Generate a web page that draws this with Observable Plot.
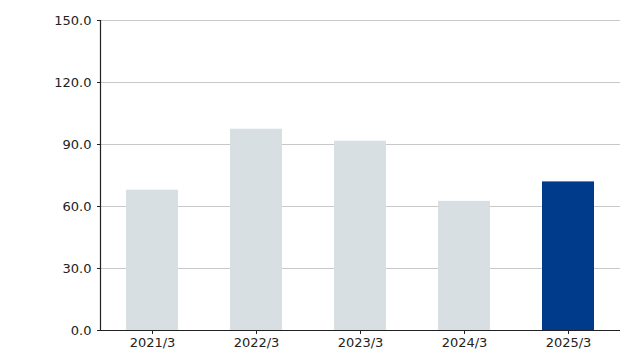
<!DOCTYPE html>
<html>
<head>
<meta charset="utf-8">
<script src="https://cdn.jsdelivr.net/npm/d3@7"></script>
<script src="https://cdn.jsdelivr.net/npm/@observablehq/plot@0.6"></script>
<style>
  html, body { margin: 0; padding: 0; background: #fff; }
  #chart { width: 630px; height: 360px; }
</style>
</head>
<body>
<div id="chart"></div>
<script>
const categories = ["2021/3", "2022/3", "2023/3", "2024/3", "2025/3"];
const values = [67.9, 97.4, 91.6, 62.5, 71.9];
const highlight = [false, false, false, false, true];
const yTicks = [0, 30, 60, 90, 120, 150];

const data = categories.map((c, i) => ({ cat: c, value: values[i], hl: highlight[i] }));

const chart = Plot.plot({
  width: 630,
  height: 360,
  marginLeft: 100,
  marginRight: 10,
  marginTop: 20,
  marginBottom: 30,
  style: { fontFamily: "'DejaVu Sans', Verdana, sans-serif", fontSize: "13px", color: "#222", background: "#fff" },
  x: { domain: categories, paddingInner: 0.5, paddingOuter: 0.25, label: null },
  y: { domain: [0, 150], label: null },
  marks: [
    Plot.gridY(yTicks, { stroke: "#c8c8c8", strokeOpacity: 1, strokeWidth: 1 }),
    Plot.barY(data, { x: "cat", y: "value", fill: d => d.hl ? "#003a8b" : "#d8dfe2" }),
    Plot.axisY(yTicks, { tickSize: 3, tickPadding: 6, tickFormat: d => d.toFixed(1), fontSize: 13, stroke: "#222", fill: "#222", label: null }),
    Plot.axisX({ tickSize: 4, tickPadding: 3, fontSize: 13, stroke: "#222", fill: "#222", label: null }),
    Plot.frame({ anchor: "left", stroke: "#222", strokeWidth: 1.2 }),
    Plot.ruleY([0], { stroke: "#222", strokeWidth: 1.2 })
  ]
});
document.getElementById("chart").appendChild(chart);
</script>
</body>
</html>
